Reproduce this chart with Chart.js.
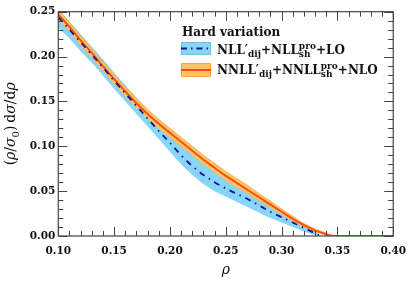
<!DOCTYPE html>
<html><head><meta charset="utf-8">
<script src="https://cdn.jsdelivr.net/npm/chart.js@4.4.1/dist/chart.umd.min.js"></script>
<style>html,body{margin:0;padding:0;background:#fff}#wrap{width:415px;height:283px}</style>
</head><body><div id="wrap"><canvas id="c" width="415" height="283"></canvas></div>
<script>
// ---- data ----
const rhoNNLL   = [0.10,0.11,0.12,0.13,0.14,0.15,0.16,0.17,0.18,0.19,0.20,0.21,0.22,0.23,0.24,0.25,0.26,0.27,0.28,0.29,0.30,0.31,0.32,0.33,0.34,0.345,0.35,0.40];
const nnllCenter= [0.247,0.233,0.218,0.204,0.189,0.175,0.161,0.148,0.136,0.125,0.115,0.105,0.095,0.085,0.076,0.067,0.059,0.051,0.043,0.035,0.027,0.019,0.012,0.006,0.002,0.0003,0.000,0.000];
const nnllLow   = [0.242,0.228,0.213,0.199,0.184,0.170,0.156,0.143,0.131,0.120,0.110,0.100,0.090,0.080,0.071,0.062,0.054,0.047,0.039,0.032,0.024,0.017,0.010,0.005,0.001,0.0002,0.000,0.000];
const nnllHigh  = [0.253,0.238,0.223,0.209,0.194,0.180,0.166,0.153,0.141,0.130,0.120,0.110,0.100,0.090,0.081,0.072,0.064,0.056,0.047,0.039,0.030,0.022,0.014,0.008,0.003,0.0004,0.000,0.000];

const rhoNLL    = [0.10,0.11,0.12,0.13,0.14,0.15,0.16,0.17,0.18,0.19,0.20,0.21,0.22,0.23,0.24,0.25,0.26,0.27,0.28,0.29,0.30,0.31,0.32,0.33,0.335];
const nllCenter = [0.244,0.230,0.216,0.202,0.188,0.173,0.159,0.145,0.131,0.117,0.104,0.090,0.078,0.068,0.060,0.053,0.047,0.041,0.034,0.027,0.021,0.015,0.009,0.003,0.000];
const nllLow    = [0.232,0.220,0.206,0.193,0.179,0.164,0.150,0.136,0.122,0.108,0.094,0.080,0.068,0.058,0.050,0.044,0.038,0.032,0.026,0.020,0.015,0.010,0.005,0.001,0.000];
const nllHigh   = [0.253,0.239,0.225,0.211,0.197,0.182,0.168,0.154,0.141,0.128,0.116,0.103,0.091,0.080,0.071,0.064,0.057,0.050,0.042,0.034,0.027,0.020,0.013,0.005,0.000];

const xTickValues = [0.10,0.15,0.20,0.25,0.30,0.35,0.40];
const yTickValues = [0.00,0.05,0.10,0.15,0.20,0.25];

const legendTitle = 'Hard variation';
const legendNLL  = [{t:'NLL′'},{sub:'dij'},{t:'+NLL'},{sup:'pro',sub:'sh'},{t:'+LO'}];
const legendNNLL = [{t:'NNLL′'},{sub:'dij'},{t:'+NNLL'},{sup:'pro',sub:'sh'},{t:'+NLO'}];
const xTitleSegs = [{t:'ρ',i:true}];
const yTitleSegs = [{t:'('},{t:'ρ',i:true},{t:'/'},{t:'σ',i:true},{sub:'0'},{t:')\u2009d'},{t:'σ',i:true},{t:'/d'},{t:'ρ',i:true}];

// ---- styles ----
const C_BLUE_FILL = 'rgb(135,214,250)';
const C_BLUE_LINE = 'rgb(20,20,150)';
const C_OR_FILL = 'rgb(250,196,104)';
const C_OR_EDGE = 'rgb(242,168,60)';
const C_OR_LINE = 'rgb(250,80,20)';
const SERIF = '"DejaVu Serif"';

const pts = (xs, ys) => xs.map((x,i)=>({x:x, y:ys[i]}));

function drawRich(ctx, x, y, segs, size, bold) {
  const w = bold ? 'bold ' : '';
  const small = Math.round(size*0.72);
  for (const s of segs) {
    if (s.t !== undefined) {
      ctx.font = (s.i ? 'italic ' : '') + w + size + 'px ' + SERIF;
      ctx.fillText(s.t, x, y);
      x += ctx.measureText(s.t).width;
    } else {
      ctx.font = w + small + 'px ' + SERIF;
      let adv = 0;
      if (s.sup) { ctx.fillText(s.sup, x, y - size*0.42); adv = Math.max(adv, ctx.measureText(s.sup).width); }
      if (s.sub) { ctx.fillText(s.sub, x, y + size*0.28); adv = Math.max(adv, ctx.measureText(s.sub).width); }
      x += adv;
    }
  }
  return x;
}
function richWidth(ctx, segs, size, bold) {
  ctx.save(); ctx.globalAlpha = 0;
  const end = drawRich(ctx, 0, -1000, segs, size, bold);
  ctx.restore();
  return end;
}

const decor = {
  id: 'decor',
  afterDraw(chart) {
    const ctx = chart.ctx, a = chart.chartArea;
    const xs = chart.scales.x, ys = chart.scales.y;
    ctx.save();
    // frame
    ctx.strokeStyle = '#444'; ctx.lineWidth = 1.2;
    ctx.strokeRect(a.left, a.top, a.right - a.left, a.bottom - a.top);
    // inward ticks on all four sides
    ctx.lineWidth = 1;
    ctx.beginPath();
    for (let k = 10; k <= 40; k++) {
      const px = Math.round(xs.getPixelForValue(k/100)) + 0.5;
      const len = (k % 5 === 0) ? 9 : 5;
      ctx.moveTo(px, a.bottom); ctx.lineTo(px, a.bottom - len);
      ctx.moveTo(px, a.top); ctx.lineTo(px, a.top + len);
    }
    for (let k = 0; k <= 25; k++) {
      const py = Math.round(ys.getPixelForValue(k/100)) + 0.5;
      const len = (k % 5 === 0) ? 9 : 5;
      ctx.moveTo(a.left, py); ctx.lineTo(a.left + len, py);
      ctx.moveTo(a.right, py); ctx.lineTo(a.right - len, py);
    }
    ctx.stroke();

    // legend
    ctx.fillStyle = '#111'; ctx.textBaseline = 'alphabetic'; ctx.textAlign = 'left';
    ctx.font = 'bold 12px ' + SERIF;
    ctx.fillText(legendTitle, 182, 35.5);
    // NLL patch
    ctx.fillStyle = C_BLUE_FILL; ctx.fillRect(181, 42, 30, 13);
    ctx.strokeStyle = 'rgb(110,195,240)'; ctx.lineWidth = 1; ctx.strokeRect(181.5, 42.5, 29, 12);
    ctx.strokeStyle = C_BLUE_LINE; ctx.lineWidth = 1.8; ctx.setLineDash([6,4,1.5,4]);
    ctx.beginPath(); ctx.moveTo(181, 48.5); ctx.lineTo(211, 48.5); ctx.stroke(); ctx.setLineDash([]);
    // NNLL patch
    ctx.fillStyle = C_OR_FILL; ctx.fillRect(181, 63, 30, 14);
    ctx.strokeStyle = C_OR_EDGE; ctx.lineWidth = 1; ctx.strokeRect(181.5, 63.5, 29, 13);
    ctx.strokeStyle = C_OR_LINE; ctx.lineWidth = 2;
    ctx.beginPath(); ctx.moveTo(181, 70); ctx.lineTo(211, 70); ctx.stroke();
    ctx.fillStyle = '#111';
    drawRich(ctx, 217, 54, legendNLL, 12, true);
    drawRich(ctx, 217, 74, legendNNLL, 12, true);

    // axis titles
    const xw = richWidth(ctx, xTitleSegs, 14, false);
    drawRich(ctx, (a.left + a.right)/2 - xw/2, 274, xTitleSegs, 14, false);
    const yw = richWidth(ctx, yTitleSegs, 14, false);
    ctx.translate(15, (a.top + a.bottom)/2);
    ctx.rotate(-Math.PI/2);
    drawRich(ctx, -yw/2, 0, yTitleSegs, 14, false);
    ctx.restore();
  }
};

new Chart(document.getElementById('c'), {
  type: 'line',
  data: {
    datasets: [
      {data: pts(rhoNLL, nllLow), borderWidth: 0, pointRadius: 0, fill: false, order: 6},
      {data: pts(rhoNLL, nllHigh), borderWidth: 0, pointRadius: 0, fill: {target: 0}, backgroundColor: C_BLUE_FILL, order: 5},
      {data: pts(rhoNNLL, nnllLow), borderWidth: 0.8, borderColor: C_OR_EDGE, pointRadius: 0, fill: false, order: 4},
      {data: pts(rhoNNLL, nnllHigh), borderWidth: 0.8, borderColor: C_OR_EDGE, pointRadius: 0, fill: {target: 2}, backgroundColor: C_OR_FILL, order: 3},
      {data: pts(rhoNNLL, nnllCenter), borderWidth: 2, borderColor: C_OR_LINE, pointRadius: 0, fill: false, order: 2},
      {data: pts(rhoNLL, nllCenter), borderWidth: 1.8, borderColor: C_BLUE_LINE, borderDash: [6,5,1.5,5], pointRadius: 0, fill: false, order: 1}
    ]
  },
  options: {
    responsive: false, animation: false, devicePixelRatio: 1,
    layout: {padding: {left: 0, top: 11.7, right: 19.5, bottom: 0}},
    plugins: {legend: {display: false}, tooltip: {enabled: false}},
    elements: {line: {cubicInterpolationMode: 'monotone'}},
    scales: {
      x: {
        type: 'linear', min: 0.10, max: 0.40,
        grid: {display: false, drawTicks: false}, border: {display: false},
        afterBuildTicks: s => { s.ticks = xTickValues.map(v => ({value: v})); },
        afterFit: s => { s.height = 47; },
        ticks: {padding: 9, color: '#111', font: {family: 'DejaVu Serif', weight: 'bold', size: 10.5},
                maxRotation: 0, callback: v => v.toFixed(2)}
      },
      y: {
        type: 'linear', min: 0, max: 0.25,
        grid: {display: false, drawTicks: false}, border: {display: false},
        afterBuildTicks: s => { s.ticks = yTickValues.map(v => ({value: v})); },
        afterFit: s => { s.width = 58.3; },
        ticks: {padding: 3, color: '#111', font: {family: 'DejaVu Serif', weight: 'bold', size: 10.5},
                callback: v => v.toFixed(2)}
      }
    }
  },
  plugins: [decor]
});
</script></body></html>
